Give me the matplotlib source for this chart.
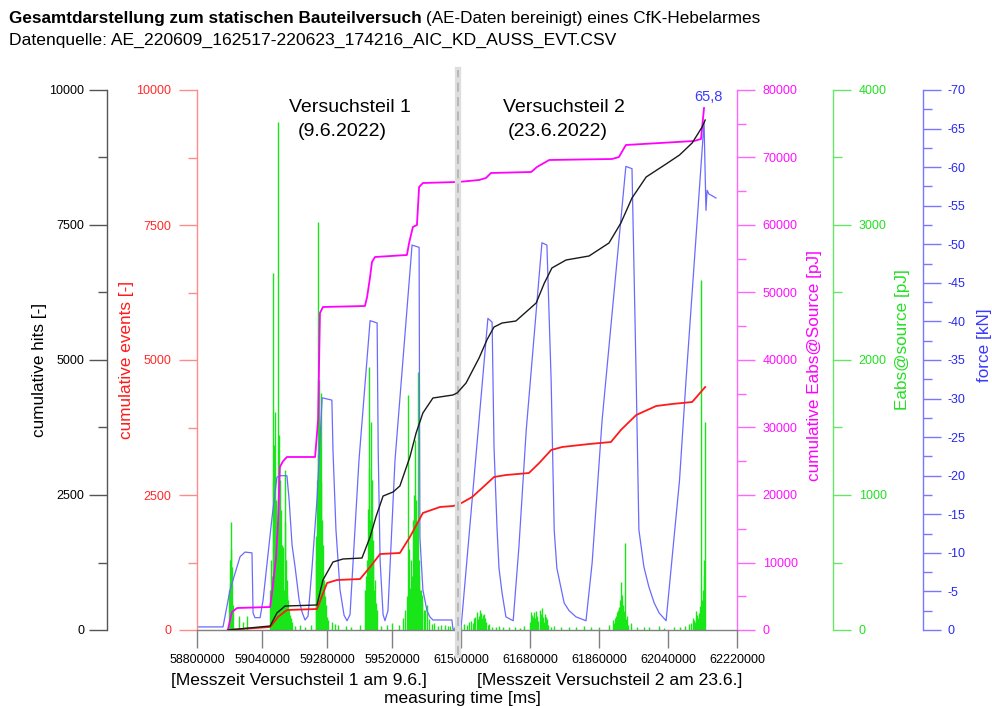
import numpy as np
import matplotlib
matplotlib.use("Agg")
import matplotlib.pyplot as plt
from matplotlib.ticker import MultipleLocator, FixedLocator

plt.rcParams['font.family'] = ['Liberation Sans', 'DejaVu Sans']
plt.rcParams['axes.unicode_minus'] = False

# ---------------- data (measuring time in ms) ----------------
# cumulative hits [-]
hits_t = [58914000, 59070000, 59095000, 59125000, 59243000, 59265000, 59302000, 59339000,
          59409000, 59439000, 59461000, 59487000, 59524000, 59549000, 59586000, 59609000,
          59634000, 59671000, 59745000, 59760000,
          61492000, 61513000, 61547000, 61568000, 61586000, 61607000, 61643000, 61696000,
          61717000, 61737000, 61774000, 61834000, 61886000, 61917000, 61946000, 61983000,
          62035000, 62070000, 62103000, 62129000, 62137000]
hits = [0, 74, 315, 444, 463, 926, 1259, 1315,
        1333, 1722, 2100, 2481, 2556, 2667, 3204, 3650,
        4019, 4296, 4352, 4389,
        4407, 4574, 5037, 5380, 5611, 5685, 5722, 6056,
        6420, 6704, 6852, 6926, 7167, 7537, 8000, 8389,
        8630, 8796, 9019, 9315, 9444]

# cumulative events [-]
events_t = [58914000, 59070000, 59099000, 59132000, 59243000, 59280000, 59317000, 59402000,
            59439000, 59476000, 59549000, 59586000, 59634000, 59697000, 59745000, 59760000,
            61492000, 61529000, 61555000, 61586000, 61617000, 61677000, 61704000, 61735000,
            61764000, 61834000, 61891000, 61917000, 61957000, 62009000, 62050000, 62103000,
            62137000]
events = [0, 56, 241, 370, 389, 870, 926, 944,
          1167, 1407, 1426, 1722, 2167, 2278, 2296, 2315,
          2315, 2463, 2630, 2833, 2870, 2907, 3093, 3333,
          3389, 3444, 3481, 3704, 3981, 4148, 4185, 4222,
          4500]

# cumulative Eabs@Source [pJ]
cum_e_t = [58914000, 58922000, 58929000, 58948000, 59070000, 59077000, 59092000, 59099000,
           59106000, 59117500, 59132000, 59236000, 59247000, 59254000, 59265000, 59420000,
           59428000, 59439000, 59446000, 59457000, 59575000, 59583000, 59597000, 59612000,
           59620000, 59634000, 59760000,
           61492000, 61547000, 61565000, 61578000, 61683000, 61698000, 61730000, 61894000,
           61912000, 61930000, 62108000, 62126000, 62134000]
cum_e = [0, 1500, 2667, 3259, 3407, 5481, 10815, 15852,
         24148, 25000, 25630, 25630, 31111, 46963, 47852, 48000,
         49333, 52296, 54519, 55259, 55556, 57333, 59704, 60000,
         65630, 66222, 66370,
         66370, 66667, 66963, 67704, 67852, 68593, 69630, 69778,
         70074, 71852, 72444, 72741, 77333]

# Eabs@source [pJ] of the single events
eabs_t = [58918000, 58920000, 58922000, 58925500, 58927000, 58929000, 58933000, 58955000,
          58970000, 58985000,
          59070000, 59073000, 59076000, 59079500, 59082000, 59084000, 59088000, 59091700,
          59094500, 59098000, 59100500, 59102700, 59106400, 59108000, 59110000, 59113800,
          59115600, 59117500, 59120500, 59124900, 59126500, 59128600, 59132300, 59134000,
          59136000, 59140000, 59143400, 59147000, 59150700, 59160000, 59180000, 59200000,
          59220000,
          59239300, 59241000, 59243000, 59245600, 59248000, 59250400, 59252000, 59254100,
          59256000, 59257800, 59259600, 59261500, 59263000, 59265200, 59267000, 59268900,
          59272000, 59276300, 59280000, 59283700, 59300000, 59309000, 59320000, 59350000,
          59370000, 59400000,
          59420300, 59424000, 59427600, 59431000, 59433900, 59436000, 59438700, 59440500,
          59442400, 59444000, 59446100, 59448000, 59449800, 59453000, 59457200, 59460000,
          59464600, 59480000, 59500000, 59520000, 59545000, 59560000,
          59568000, 59575000, 59579000, 59582000, 59586400, 59590100, 59593000, 59597500,
          59601000, 59604900, 59606500, 59608500, 59612000, 59615900, 59617800, 59619600,
          59622000, 59627000, 59630000, 59632000, 59638100, 59643000, 59649200, 59655000,
          59667600, 59675000, 59689800, 59700000, 59715600, 59725000, 59734100, 59750000,
          61500000, 61507800, 61516000, 61520900, 61525000, 61530000, 61533900, 61537000,
          61541700, 61544000, 61547000, 61550000, 61552200, 61555000, 61557400, 61560000,
          61562600, 61566000, 61570000, 61573100, 61580000, 61590000, 61599100, 61610000,
          61625200, 61640000, 61655000, 61664400,
          61680000, 61682600, 61685000, 61687800, 61690500, 61693000, 61696000, 61698300,
          61701000, 61706100, 61709000, 61711300, 61714000, 61717000, 61719100, 61722000,
          61724400, 61728000, 61735000, 61742600, 61760000, 61781800, 61800000, 61820900,
          61840000, 61860000, 61886100,
          61896600, 61899000, 61902000, 61904400, 61907000, 61909600, 61912000, 61914800,
          61917400, 61919000, 61922600, 61925000, 61927800, 61930000, 61933100, 61936000,
          61943500, 61960000, 61977400, 61990000, 62016500, 62030000, 62055600, 62070000,
          62085000,
          62094800, 62100000, 62104000, 62107900, 62110000, 62113000, 62115700, 62118000,
          62120900, 62123000, 62126100, 62128700, 62131300, 62133000, 62134000, 62136500]
eabs = [296, 350, 518, 800, 600, 467, 185, 104,
        59, 104,
        296, 518, 400, 2644, 1100, 1370, 1615, 963,
        800, 3763, 650, 1444, 1111, 700, 889, 630,
        450, 615, 300, 1185, 800, 518, 370, 260,
        222, 150, 111, 90, 59, 30, 37, 22,
        40,
        518, 700, 1111, 3022, 1300, 1852, 900, 1481,
        1100, 1756, 600, 815, 500, 630, 300, 370,
        250, 185, 100, 74, 60, 44, 35, 30,
        25, 40,
        296, 400, 518, 900, 1948, 1200, 815, 700,
        1541, 900, 1111, 500, 667, 300, 370, 200,
        148, 30, 37, 50, 40, 90,
        148, 250, 1741, 600, 311, 518, 400, 815,
        1000, 1407, 700, 963, 800, 1911, 400, 518,
        300, 296, 260, 200, 148, 150, 185, 80,
        44, 50, 30, 40, 37, 30, 30, 25,
        22, 44, 40, 59, 70, 55, 89, 100,
        133, 80, 104, 150, 126, 90, 111, 120,
        89, 60, 40, 44, 25, 20, 30, 20,
        22, 25, 18, 30,
        60, 133, 110, 96, 133, 90, 140, 104,
        70, 148, 120, 163, 100, 60, 118, 95,
        81, 40, 25, 30, 20, 22, 25, 30,
        20, 22, 37,
        74, 50, 90, 104, 130, 148, 170, 222,
        356, 260, 185, 140, 644, 80, 104, 40,
        52, 20, 22, 25, 30, 18, 22, 22,
        30,
        44, 50, 90, 74, 60, 140, 111, 90,
        126, 180, 2593, 222, 296, 400, 519, 1541]

# force [kN]
force_t = [58800000, 58896000, 58922000, 58959000, 58977000, 59003000, 59007000, 59014000,
           59033000, 59044000, 59077000, 59095000, 59106000, 59132000, 59140000, 59151000,
           59162000, 59177000, 59188000, 59199000, 59210000, 59225000, 59243000, 59262000,
           59298000, 59302000, 59313000, 59328000, 59343000, 59354000, 59365000, 59398000,
           59439000, 59465000, 59469000, 59476000, 59487000, 59494000, 59505000, 59531000,
           59594000, 59620000, 59623000, 59634000, 59649000, 59660000, 59671000, 59741000,
           59745000, 59760000,
           61492000, 61500000, 61570000, 61581000, 61586000, 61594000, 61599000, 61607000,
           61617000, 61636000, 61651000, 61670000, 61711000, 61724000, 61735000, 61743000,
           61750000, 61769000, 61782000, 61800000, 61826000, 61842000, 61868000, 61930000,
           61946000, 61957000, 61964000, 61977000, 61990000, 62004000, 62017000, 62035000,
           62070000, 62087000, 62134000, 62139000, 62142000, 62147000, 62155000, 62165000]
force = [-0.4, -0.4, -5.2, -9.5, -10.1, -10.0, -2.2, -1.6,
         -1.6, -3.9, -14.6, -19.8, -20.0, -20.0, -16.9, -11.0,
         -8.2, -3.9, -2.3, -1.3, -1.8, -8.2, -16.9, -30.1,
         -29.8, -23.3, -13.0, -5.2, -1.9, -1.2, -2.0, -22.0,
         -40.1, -39.8, -23.3, -9.0, -2.0, -1.2, -2.5, -22.0,
         -49.9, -49.6, -12.0, -5.2, -2.5, -1.7, -1.3, -1.3,
         -0.1, -0.1,
         -0.1, -0.3, -40.4, -39.9, -23.7, -13.0, -8.0, -4.8,
         -1.7, -1.2, -10.8, -25.9, -50.2, -49.9, -32.4, -13.0,
         -8.0, -3.5, -2.5, -1.7, -1.2, -8.7, -27.2, -60.1,
         -59.8, -32.4, -13.0, -8.2, -5.6, -3.5, -2.2, -1.2,
         -19.4, -32.4, -65.8, -54.4, -57.0, -56.5, -56.3, -56.0]
max_force = -65.8
max_force_t = 62134000

xticks = [58800000, 59040000, 59280000, 59520000, 61500000, 61680000, 61860000, 62040000, 62220000]
xtick_labels = ['58800000', '59040000', '59280000', '59520000', '61500000',
                '61680000', '61860000', '62040000', '62220000']

# broken time axis: part 1 (9.6.) | part 2 (23.6.)
t_start = 58800000
t_end1 = 59763600
t_start2 = 61492000
t_end = 62220000
w1, w2 = 261.0, 279.0


def fwd(t):
    t = np.asarray(t, dtype=float)
    a = (t - t_start) / (t_end1 - t_start) * w1
    b = w1 + (t - t_start2) / (t_end - t_start2) * w2
    return np.where(t <= t_end1, a, np.where(t >= t_start2, b, w1))


def inv(u):
    u = np.asarray(u, dtype=float)
    a = t_start + u / w1 * (t_end1 - t_start)
    b = t_start2 + (u - w1) / w2 * (t_end - t_start2)
    return np.where(u <= w1, a, b)


W, H = 992, 706


def fx(x):
    return x / W


def fy(y):
    return 1 - y / H


fig = plt.figure(figsize=(W / 100, H / 100), dpi=100)
ax = fig.add_axes([fx(197), fy(630), 540 / W, 540 / H])
ax.set_xscale('function', functions=(fwd, inv))
ax.set_xlim(t_start, t_end)

ax_e = ax.twinx()
ax_f = ax.twinx()
ax_m = ax.twinx()
ax_h = ax.twinx()

ax_e.set_zorder(1)
ax_f.set_zorder(2)
ax_m.set_zorder(3)
ax.set_zorder(4)
ax_h.set_zorder(5)
ax.patch.set_visible(False)

for a in (ax, ax_e, ax_f, ax_m, ax_h):
    for s in a.spines.values():
        s.set_visible(False)

major, minor = 13, 6.5


def style_y(a, side, pos, col_spine, col_lab, lo, hi, step, pad):
    sp = a.spines[side]
    sp.set_visible(True)
    sp.set_position(('axes', pos))
    sp.set_color(col_spine)
    sp.set_linewidth(1.0)
    if side == 'left':
        a.yaxis.tick_left()
        a.yaxis.set_label_position('left')
    else:
        a.yaxis.tick_right()
        a.yaxis.set_label_position('right')
    a.set_ylim(lo, hi)
    a.yaxis.set_major_locator(MultipleLocator(step))
    a.yaxis.set_minor_locator(MultipleLocator(step / 2))
    a.tick_params(axis='y', which='major', direction='out', length=major, width=1,
                  color=col_spine, labelcolor=col_lab, labelsize=9, pad=pad)
    a.tick_params(axis='y', which='minor', direction='out', length=minor, width=1,
                  color=col_spine)


style_y(ax, 'left', 0.0, '#ff8c8c', '#ff2a2a', 0, 10000, 2500, 5.5)
style_y(ax_h, 'left', -90 / 540, '#555555', 'black', 0, 10000, 2500, 3.5)
style_y(ax_m, 'right', 1.0, '#ff66ff', '#ff11ff', 0, 80000, 10000, 5.5)
style_y(ax_e, 'right', 636 / 540, '#66e666', '#22e022', 0, 4000, 1000, 5.5)
style_y(ax_f, 'right', 726 / 540, '#7777ff', '#2828ee', 0, -70, 5, 4.5)

# x axis
ax.spines['bottom'].set_visible(True)
ax.spines['bottom'].set_color('#808080')
ax.spines['bottom'].set_linewidth(1.0)
ax.xaxis.set_major_locator(FixedLocator(xticks))
ax.set_xticklabels(xtick_labels)
ax.tick_params(axis='x', which='major', direction='out', length=13, width=1,
               color='#808080', labelsize=9, pad=4)
ax.tick_params(axis='x', which='minor', length=0)
for a in (ax_e, ax_f, ax_m, ax_h):
    a.tick_params(axis='x', which='both', bottom=False, labelbottom=False)

# data
ax_e.vlines(eabs_t, 0, eabs, color='#18e618', lw=1.0)
ax_f.plot(force_t, force, color='#6a6aff', lw=0.9)
ax_m.plot(cum_e_t, cum_e, color='#ff00ff', lw=1.3)
ax.plot(events_t, events, color='#ff1a1a', lw=1.3)
ax_h.plot(hits_t, hits, color='#1a1a1a', lw=1.0)

# axis break marker
ax.plot([t_end1, t_end1], [-0.046, 1.037], transform=ax.get_xaxis_transform(),
        color='#dedede', lw=4.5, clip_on=False, zorder=6)
ax.plot([t_end1, t_end1], [-0.046, 1.037], transform=ax.get_xaxis_transform(),
        color='#b5b5b5', lw=1.3, ls=(0, (5, 3)), clip_on=False, zorder=7)

ax_f.annotate('65,8', xy=(max_force_t, max_force), xytext=(3, 18), textcoords='offset points',
              ha='center', va='center', color='#3a3aff', fontsize=10.5)

# labels
ax_h.set_ylabel('cumulative hits [-]', fontsize=12.3, color='black')
ax_h.yaxis.set_label_coords((40 - 197) / 540, 0.481)
ax.set_ylabel('cumulative events [-]', fontsize=12.3, color='#ff1a1a')
ax.yaxis.set_label_coords((126 - 197) / 540, 0.5)
ax_m.set_ylabel('cumulative Eabs@Source [pJ]', fontsize=12.3, color='#ff00ff')
ax_m.yaxis.set_label_coords((815 - 197) / 540, 0.49)
ax_e.set_ylabel('Eabs@source [pJ]', fontsize=12.3, color='#22e022')
ax_e.yaxis.set_label_coords((902 - 197) / 540, 0.537)
ax_f.set_ylabel('force [kN]', fontsize=12.3, color='#3a3aff')
ax_f.yaxis.set_label_coords((984 - 197) / 540, 0.528)
for a in (ax, ax_h, ax_m, ax_e, ax_f):
    a.yaxis.label.set_verticalalignment('center')

ax.set_xlabel('measuring time [ms]', fontsize=12.5)
ax.xaxis.set_label_coords((462 - 197) / 540, (630 - 698) / 540)
ax.xaxis.label.set_verticalalignment('center')

fig.text(fx(299), fy(681), '[Messzeit Versuchsteil 1 am 9.6.]', fontsize=12.6,
         ha='center', va='center')
fig.text(fx(610), fy(681), '[Messzeit Versuchsteil 2 am 23.6.]', fontsize=12.6,
         ha='center', va='center')

fig.text(fx(289), fy(108), 'Versuchsteil 1', fontsize=14, ha='left', va='center')
fig.text(fx(298), fy(132), '(9.6.2022)', fontsize=14, ha='left', va='center')
fig.text(fx(503), fy(108), 'Versuchsteil 2', fontsize=14, ha='left', va='center')
fig.text(fx(508), fy(132), '(23.6.2022)', fontsize=14, ha='left', va='center')

# title
t1 = fig.text(fx(9), fy(18), 'Gesamtdarstellung zum statischen Bauteilversuch',
              fontsize=12.3, fontweight='bold', ha='left', va='center')
bb = t1.get_window_extent(fig.canvas.get_renderer())
fig.text((bb.x1 + 4) / W, fy(18), '(AE-Daten bereinigt) eines CfK-Hebelarmes',
         fontsize=12.3, ha='left', va='center')
fig.text(fx(9), fy(40), 'Datenquelle: AE_220609_162517-220623_174216_AIC_KD_AUSS_EVT.CSV',
         fontsize=12.6, ha='left', va='center')

fig.savefig('out.png', dpi=100)
